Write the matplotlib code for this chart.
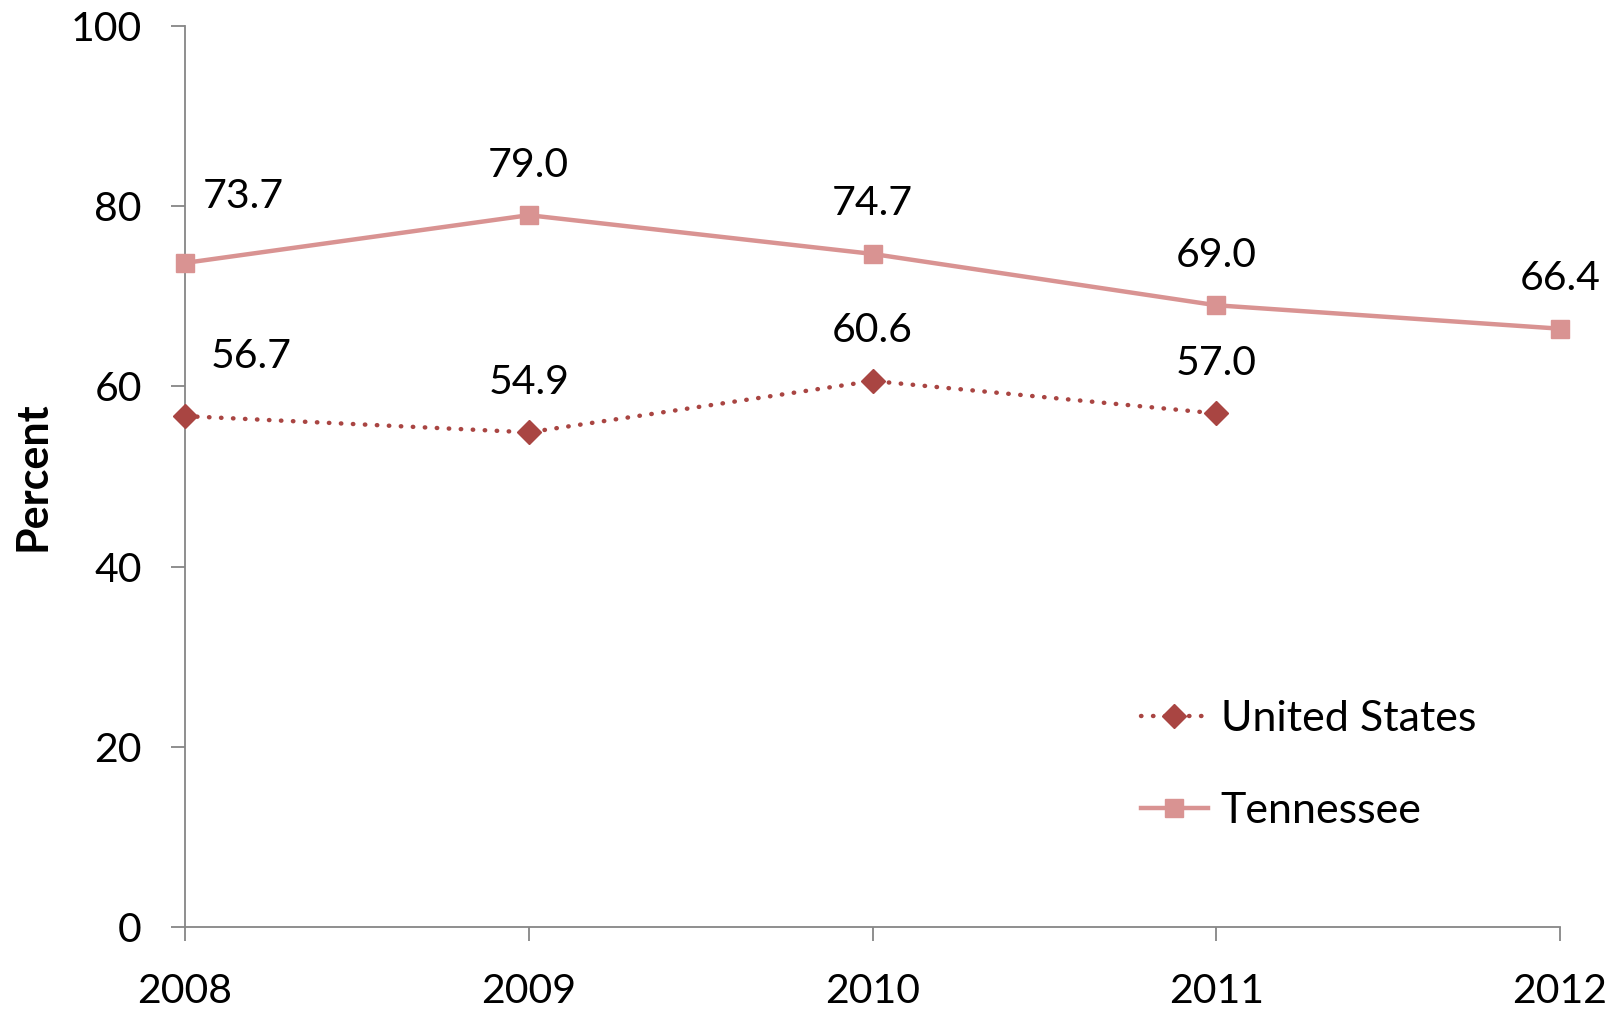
import matplotlib
matplotlib.use("Agg")
import matplotlib.pyplot as plt

# ── Data ─────────────────────────────────────────────────────────────────────
years_us  = [2008, 2009, 2010, 2011]
us_vals   = [56.7, 54.9, 60.6, 57.0]
years_tn  = [2008, 2009, 2010, 2011, 2012]
tn_vals   = [73.7, 79.0, 74.7, 69.0, 66.4]
y_ticks   = [0, 20, 40, 60, 80, 100]

US_COL = '#A94542'
TN_COL = '#D99392'
AX_COL = '#868686'

plt.rcParams['font.family'] = ['Lato', 'DejaVu Sans']

fig = plt.figure(figsize=(16.19, 10.10), dpi=100)
ax = fig.add_axes([0.1143, 0.0822, 0.8493, 0.8921])

ax.plot(years_us, us_vals, color=US_COL, lw=3.2, linestyle=(0, (0.1, 2.6)),
        dash_capstyle='round', marker='D', markersize=12.5, clip_on=False,
        label='United States', zorder=3)
ax.plot(years_tn, tn_vals, color=TN_COL, lw=3.2, marker='s', markersize=13.5,
        clip_on=False, label='Tennessee', zorder=3)

# data labels (Excel "above", first one nudged right)
for xs, vs in [(years_us, us_vals), (years_tn, tn_vals)]:
    for i, (x, v) in enumerate(zip(xs, vs)):
        dx = 58 if i == 0 else 0
        dy = 66 if i == 0 else 50
        if xs is years_us and i == 0:
            dx, dy = 66, 60
        ax.annotate(f"{v:.1f}", (x, v), xytext=(dx, dy), textcoords='offset pixels',
                    ha='center', va='center', fontsize=29.5)

ax.set_xlim(2008, 2012)
ax.set_ylim(0, 100)
ax.set_xticks(years_tn)
ax.set_yticks(y_ticks)
ax.tick_params(axis='both', labelsize=29.5, colors=AX_COL, labelcolor='black',
               length=10, width=1.3, direction='out')
ax.tick_params(axis='y', pad=21)
ax.tick_params(axis='x', pad=23)

for s in ['top', 'right']:
    ax.spines[s].set_visible(False)
for s in ['left', 'bottom']:
    ax.spines[s].set_color(AX_COL)
    ax.spines[s].set_linewidth(1.3)

ax.set_ylabel('Percent', fontsize=31, fontweight='bold')
ax.yaxis.set_label_coords(-0.0965, 0.5)

fig.legend(loc='center left', bbox_to_anchor=(0.7048, 0.2425), frameon=False,
           fontsize=31, handlelength=1.55, handletextpad=0.3, labelspacing=1.25,
           borderpad=0, borderaxespad=0)

fig.savefig('out.png', dpi=100)
